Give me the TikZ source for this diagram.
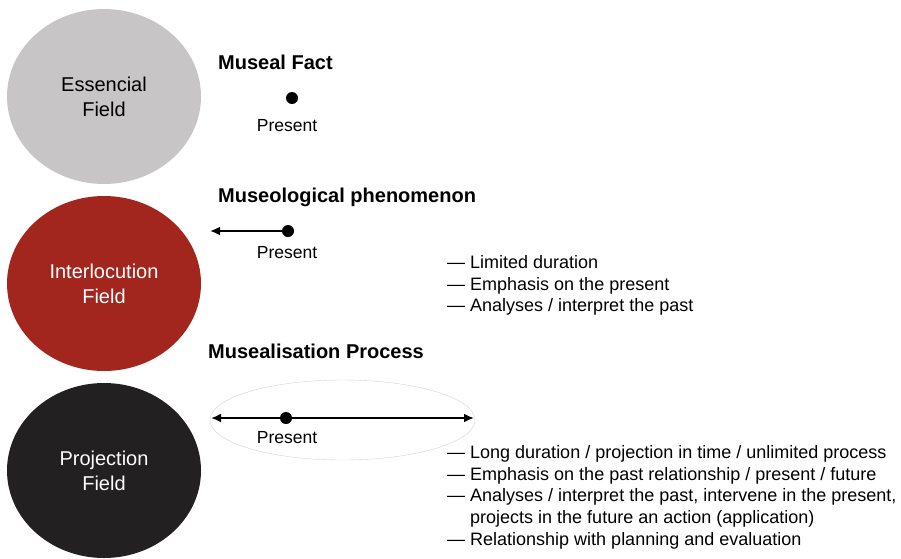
\documentclass[tikz,border=0pt]{standalone}
\usepackage{fontspec}
\setmainfont{Liberation Sans}
\usetikzlibrary{arrows.meta,shapes.geometric}
\definecolor{essgray}{RGB}{199,197,198}
\definecolor{intred}{RGB}{162,38,30}
\definecolor{prodark}{RGB}{34,32,33}
\definecolor{ringcol}{RGB}{222,205,205}

\begin{document}
\begin{tikzpicture}[x=1pt,y=1pt,node distance=187pt,>={Latex[length=10pt,width=9pt]},
  field/.style={ellipse,minimum width=194pt,minimum height=175pt,inner sep=0pt,align=center,font=\fontsize{20}{25}\selectfont},
  title/.style={anchor=west,inner sep=0pt,font=\fontsize{20}{24}\selectfont\bfseries},
  dot/.style={circle,fill=black,inner sep=0pt,minimum size=12pt},
  lbl/.style={inner sep=0pt,font=\fontsize{17.5}{20}\selectfont},
  notes/.style={anchor=north west,inner sep=0pt,align=left,font=\fontsize{18}{21.8}\selectfont},
  timeline/.style={line width=2.6pt}]
  \useasboundingbox (0,0) rectangle (901,-558);
  % the three fields
  \node[field,fill=essgray] (E) at (104,-96.5) {Essencial\\Field};
  \node[field,fill=intred,text=white] (I) [below of=E] {Interlocution\\Field};
  \node[field,fill=prodark,text=white] (P) [below of=I] {Projection\\Field};
  % museal fact
  \node[title] (T1) at (218,-62) {Museal Fact};
  \node[dot] (D1) at (292,-98) {};
  \node[lbl] (L1) at (287,-126) {Present};
  % museological phenomenon
  \node[title] (T2) at (218,-197) {Museological phenomenon};
  \node[dot] (D2) at (288,-231) {};
  \coordinate (A2) at (210,-231);
  \draw[timeline,->] (D2.center) -- (A2);
  \node[lbl] (L2) at (287,-253) {Present};
  \node[notes] (N2) at (447,-255) {--- Limited duration\\--- Emphasis on the present\\--- Analyses / interpret the past};
  % musealisation process
  \node[title] (T3) at (208,-351) {Musealisation Process};
  \node[ellipse,draw=ringcol,minimum width=265pt,minimum height=80pt] (R) at (342.5,-420) {};
  \coordinate (A3) at (211,-418);
  \coordinate (B3) at (474,-418);
  \draw[timeline,<->] (A3) -- (B3);
  \node[dot] (D3) at (286,-418) {};
  \node[lbl] (L3) at (287,-438) {Present};
  \node[notes] (N3) at (447,-445) {--- Long duration / projection in time / unlimited process\\--- Emphasis on the past relationship / present / future\\--- Analyses / interpret the past, intervene in the present,\\\phantom{--- }projects in the future an action (application)\\--- Relationship with planning and evaluation};
\end{tikzpicture}
\end{document}
